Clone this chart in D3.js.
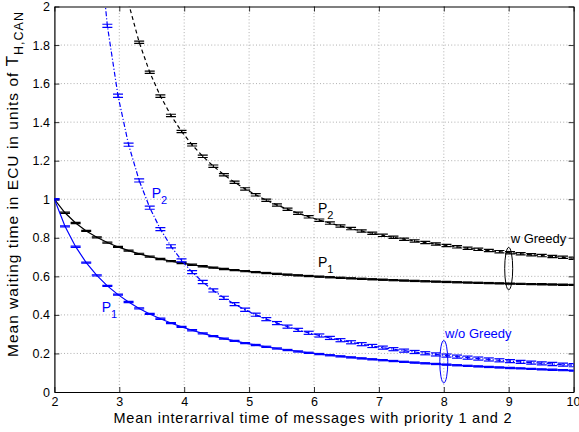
<!DOCTYPE html>
<html><head><meta charset="utf-8">
<script src="https://cdn.jsdelivr.net/npm/d3@7"></script>
<style>
body{margin:0;background:#fff;}
svg{display:block;font-family:"Liberation Sans",Arial,Helvetica,sans-serif;}
</style>
</head><body>
<svg id="c" width="579" height="432"></svg>
<script>
// ---- data ----
const xSim = [2.000,2.163,2.327,2.490,2.653,2.816,2.980,3.143,3.306,3.469,3.633,3.796,3.959,4.122,4.286,4.449,4.612,4.776,4.939,5.102,5.265,5.429,5.592,5.755,5.918,6.082,6.245,6.408,6.571,6.735,6.898,7.061,7.224,7.388,7.551,7.714,7.878,8.041,8.204,8.367,8.531,8.694,8.857,9.020,9.184,9.347,9.510,9.673,9.837,10.000];

// with Greedy (black)
const p1Greedy = [1.0000,0.9298,0.8769,0.8356,0.8025,0.7753,0.7526,0.7333,0.7168,0.7025,0.6899,0.6788,0.6690,0.6601,0.6522,0.6450,0.6384,0.6324,0.6269,0.6219,0.6172,0.6129,0.6089,0.6052,0.6017,0.5984,0.5953,0.5925,0.5897,0.5872,0.5848,0.5825,0.5803,0.5783,0.5763,0.5745,0.5727,0.5710,0.5694,0.5679,0.5664,0.5650,0.5636,0.5623,0.5611,0.5599,0.5588,0.5577,0.5566,0.5556];
const p2Greedy = [null,12.32,6.248,4.248,3.259,2.675,2.290,2.016,1.8144,1.6587,1.5350,1.4349,1.3517,1.2823,1.2227,1.1716,1.1270,1.0883,1.0537,1.0229,0.9951,0.9704,0.9481,0.9274,0.9088,0.8916,0.8762,0.8613,0.8477,0.8354,0.8236,0.8127,0.8026,0.7927,0.7838,0.7753,0.7677,0.7599,0.7531,0.7459,0.7400,0.7338,0.7281,0.7225,0.7172,0.7122,0.7076,0.7028,0.6989,0.6945];

// without Greedy (blue)
const p1NoGreedy = [1.0000,0.8596,0.7538,0.6712,0.6049,0.5506,0.5052,0.4667,0.4336,0.4050,0.3798,0.3577,0.3379,0.3203,0.3043,0.2899,0.2768,0.2649,0.2539,0.2438,0.2344,0.2258,0.2178,0.2103,0.2033,0.1968,0.1907,0.1849,0.1795,0.1744,0.1696,0.1650,0.1607,0.1565,0.1526,0.1489,0.1454,0.1420,0.1388,0.1357,0.1328,0.1300,0.1273,0.1247,0.1222,0.1198,0.1175,0.1153,0.1132,0.1111];
const p2NoGreedy = [null,11.39,5.371,3.412,2.457,1.900,1.537,1.283,1.0976,0.9562,0.8451,0.7560,0.6828,0.6221,0.5706,0.5267,0.4887,0.4558,0.4267,0.4010,0.3780,0.3575,0.3391,0.3223,0.3071,0.2932,0.2806,0.2688,0.2580,0.2481,0.2388,0.2302,0.2222,0.2146,0.2076,0.2010,0.1949,0.1890,0.1836,0.1783,0.1735,0.1688,0.1644,0.1602,0.1562,0.1524,0.1488,0.1453,0.1421,0.1389];

// half-width of the confidence interval (errorbar) per series
const errP1Greedy = 0.003, errP2Greedy = 0.006, errP1NoGreedy = 0.003, errP2NoGreedy = 0.008;

const xTicks = [2,3,4,5,6,7,8,9,10];
const xTickLabels = ["2","3","4","5","6","7","8","9","10"];
const yTicks = [0,0.2,0.4,0.6,0.8,1,1.2,1.4,1.6,1.8,2];
const yTickLabels = ["0","0.2","0.4","0.6","0.8","1","1.2","1.4","1.6","1.8","2"];

// ---- drawing ----
const svg = d3.select("#c");
const L = 54.4, R = 573.6, T = 6.5, B = 392;
const x = d3.scaleLinear().domain([2,10]).range([L,R]);
const y = d3.scaleLinear().domain([0,2]).range([B,T]);

svg.append("rect").attr("width",579).attr("height",432).attr("fill","#fff");

svg.append("defs").append("clipPath").attr("id","clip")
  .append("rect").attr("x",L).attr("y",T).attr("width",R-L).attr("height",B-T);

// grid
const grid = svg.append("g").attr("stroke","#9a9a9a").attr("stroke-width",0.8).attr("stroke-dasharray","1,2.2");
grid.selectAll(".gx").data(xTicks.slice(1,-1)).enter().append("line")
  .attr("x1",d=>x(d)).attr("x2",d=>x(d)).attr("y1",T).attr("y2",B);
grid.selectAll(".gy").data(yTicks.slice(1,-1)).enter().append("line")
  .attr("x1",L).attr("x2",R).attr("y1",d=>y(d)).attr("y2",d=>y(d));

// axes
const fmtX = d => xTickLabels[xTicks.indexOf(d)];
const fmtY = d => yTickLabels[yTicks.indexOf(d)];
const axB = svg.append("g").attr("transform",`translate(0,${B})`)
  .call(d3.axisBottom(x).tickValues(xTicks).tickFormat(fmtX).tickSizeInner(-5).tickSizeOuter(0).tickPadding(5.5));
const axL = svg.append("g").attr("transform",`translate(${L},0)`)
  .call(d3.axisLeft(y).tickValues(yTicks).tickFormat(fmtY).tickSizeInner(-5).tickSizeOuter(0).tickPadding(4.4));
const axT = svg.append("g").attr("transform",`translate(0,${T})`)
  .call(d3.axisTop(x).tickValues(xTicks).tickFormat("").tickSizeInner(-5).tickSizeOuter(0));
const axR = svg.append("g").attr("transform",`translate(${R},0)`)
  .call(d3.axisRight(y).tickValues(yTicks).tickFormat("").tickSizeInner(-5).tickSizeOuter(0));
[axB,axL,axT,axR].forEach(a=>{
  a.select(".domain").attr("stroke","#000").attr("stroke-width",1.2);
  a.selectAll(".tick line").attr("stroke","#000").attr("stroke-width",0.8);
  a.selectAll("text").attr("font-size",12.5).attr("fill","#000").attr("font-family","'Liberation Sans',Arial,sans-serif");
});
axB.selectAll(".tick text").attr("dy","0.71em");
// keep the last label inside the picture
axB.selectAll(".tick text").filter(d=>d===10).attr("text-anchor","end").attr("dx","6.3");

// series
const series = [
  {vals:p1Greedy,  err:errP1Greedy,  color:"#000",    dash:null},
  {vals:p2Greedy,  err:errP2Greedy,  color:"#000",    dash:"4,3"},
  {vals:p1NoGreedy,err:errP1NoGreedy,color:"#0000ff", dash:null},
  {vals:p2NoGreedy,err:errP2NoGreedy,color:"#0000ff", dash:"5,2,1.2,2"}
];
const plot = svg.append("g").attr("clip-path","url(#clip)");
const line = d3.line().defined(d=>d[1]!=null).x(d=>x(d[0])).y(d=>y(d[1]));
series.forEach(s=>{
  const pts = xSim.map((xv,i)=>[xv,s.vals[i]]);
  plot.append("path").attr("d",line(pts)).attr("fill","none")
    .attr("stroke",s.color).attr("stroke-width",1.2)
    .attr("stroke-dasharray",s.dash);
  const vis = pts.filter(d=>d[1]!=null && d[1]<=2);
  const g = plot.append("g").attr("stroke",s.color).attr("stroke-width",1.2);
  vis.forEach(d=>{
    const cx = x(d[0]), yl = y(d[1]-s.err), yh = y(d[1]+s.err);
    g.append("line").attr("x1",cx).attr("x2",cx).attr("y1",yl).attr("y2",yh);
    g.append("line").attr("x1",cx-5).attr("x2",cx+5).attr("y1",yl).attr("y2",yl);
    g.append("line").attr("x1",cx-5).attr("x2",cx+5).attr("y1",yh).attr("y2",yh);
  });
});

// annotations
function pLabel(xv,yv,sub,color){
  const t = svg.append("text").attr("x",x(xv)).attr("y",y(yv)).attr("fill",color).attr("font-size",14);
  t.append("tspan").text("P");
  t.append("tspan").attr("dy",6).attr("font-size",11).text(sub);
}
pLabel(6.06,0.931,"2","#000");
pLabel(6.06,0.647,"1","#000");
pLabel(3.50,1.009,"2","#0000ff");
pLabel(2.73,0.416,"1","#0000ff");

svg.append("text").attr("x",x(9.03)).attr("y",y(0.771)).attr("font-size",13).attr("fill","#000").text("w Greedy");
svg.append("text").attr("x",x(8.02)).attr("y",y(0.279)).attr("font-size",13).attr("fill","#0000ff").text("w/o Greedy");

svg.append("ellipse").attr("cx",x(9)).attr("cy",y(0.64)).attr("rx",4).attr("ry",y(0.53)-y(0.64))
  .attr("fill","none").attr("stroke","#000").attr("stroke-width",1);
svg.append("ellipse").attr("cx",x(8)).attr("cy",y(0.157)).attr("rx",4).attr("ry",y(0.047)-y(0.157))
  .attr("fill","none").attr("stroke","#0000ff").attr("stroke-width",1);

// axis titles
svg.append("text").attr("x",312.5).attr("y",422.5).attr("text-anchor","middle")
  .attr("font-size",14.5).attr("textLength",398).attr("lengthAdjust","spacing")
  .text("Mean interarrival time of messages with priority 1 and 2");
const yl = svg.append("text").attr("transform","translate(18.3,357) rotate(-90)")
  .attr("font-size",15.5).attr("textLength",345).attr("lengthAdjust","spacing");
yl.append("tspan").text("Mean waiting time in ECU in units of ");
yl.append("tspan").attr("font-size",17).text("T");
yl.append("tspan").attr("dy",5).attr("font-size",12.5).text("H,CAN");
</script>
</body></html>
